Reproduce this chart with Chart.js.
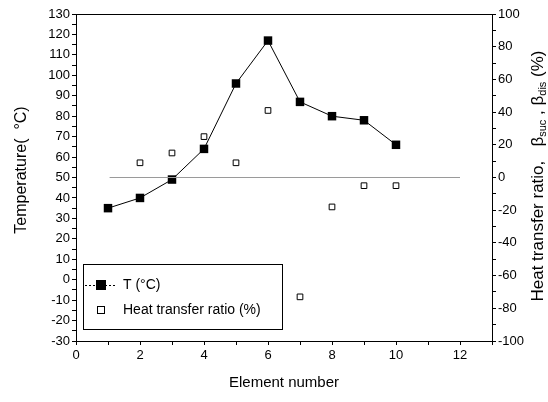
<!DOCTYPE html>
<html>
<head>
<meta charset="utf-8">
<script src="https://cdn.jsdelivr.net/npm/chart.js@4.4.1/dist/chart.umd.min.js"></script>
<style>
  html, body { margin: 0; padding: 0; background: #fff; }
  #wrap { width: 548px; height: 402px; }
</style>
</head>
<body>
<div id="wrap"><canvas id="c" width="548" height="402"></canvas></div>
<script>
// ---------- data ----------
var elements = [1, 2, 3, 4, 5, 6, 7, 8, 9, 10];
var tempC = [35, 40, 49, 64, 96, 117, 87, 80, 78, 66];
var ratioElements = [2, 3, 4, 5, 6, 7, 8, 9, 10];
var ratioPct = [9, 15, 25, 9, 41, -73, -18, -5, -5];
var zeroLineX = [1.05, 12];
var zeroLineY = [0, 0];

var tempLabel = 'T (\u00B0C)';
var ratioLabel = 'Heat transfer ratio (%)';

function pts(xs, ys) {
    return xs.map(function (x, i) { return { x: x, y: ys[i] }; });
}

var FONT = '"Liberation Sans", Arial, sans-serif';

// ---------- titles + legend drawn on canvas ----------
var extras = {
    id: 'extras',
    afterDraw: function (chart) {
        var ctx = chart.ctx;
        var a = chart.chartArea;
        ctx.save();
        ctx.fillStyle = '#000';
        ctx.strokeStyle = '#000';

        // x title
        ctx.font = '15px ' + FONT;
        ctx.textAlign = 'center';
        ctx.textBaseline = 'middle';
        ctx.fillText('Element number', (a.left + a.right) / 2, 383);

        // left title
        ctx.save();
        ctx.translate(22, 170);
        ctx.rotate(-Math.PI / 2);
        ctx.font = '16px ' + FONT;
        ctx.fillText('Temperature(  \u00B0C)', 0, 0);
        ctx.restore();

        // right title with subscripts
        ctx.save();
        ctx.translate(538, 176);
        ctx.rotate(-Math.PI / 2);
        var parts = [
            ['Heat transfer ratio,   \u03B2', false],
            ['suc', true],
            [' , \u03B2', false],
            ['dis', true],
            [' (%)', false]
        ];
        var big = '17px ' + FONT, small = '11px ' + FONT;
        var total = 0;
        parts.forEach(function (p) {
            ctx.font = p[1] ? small : big;
            total += ctx.measureText(p[0]).width;
        });
        var x = -total / 2;
        ctx.textAlign = 'left';
        parts.forEach(function (p) {
            ctx.font = p[1] ? small : big;
            ctx.fillText(p[0], x, p[1] ? 5 : 0);
            x += ctx.measureText(p[0]).width;
        });
        ctx.restore();

        // legend box
        var lx = a.left + 7, ly = 264, lw = 199, lh = 65;
        ctx.lineWidth = 1;
        ctx.strokeRect(lx + 0.5, ly + 0.5, lw, lh);

        var r1 = ly + 21, r2 = ly + 46, mx = lx + 18;
        ctx.setLineDash([2, 2]);
        ctx.beginPath();
        ctx.moveTo(lx + 2, r1 + 0.5);
        ctx.lineTo(lx + 32, r1 + 0.5);
        ctx.stroke();
        ctx.setLineDash([]);
        ctx.fillRect(mx - 5, r1 - 5, 10, 10);
        ctx.strokeRect(mx - 3.5, r2 - 3.5, 7, 7);

        ctx.font = '14px ' + FONT;
        ctx.textAlign = 'left';
        ctx.textBaseline = 'middle';
        ctx.fillText(tempLabel, lx + 40, r1);
        ctx.fillText(ratioLabel, lx + 40, r2);
        ctx.restore();
    }
};

var tickFont = { family: FONT, size: 13 };

new Chart(document.getElementById('c'), {
    type: 'scatter',
    data: {
        datasets: [
            {
                label: 'zero',
                data: pts(zeroLineX, zeroLineY),
                yAxisID: 'y2',
                showLine: true,
                borderColor: '#9a9a9a',
                borderWidth: 1,
                pointRadius: 0
            },
            {
                label: tempLabel,
                data: pts(elements, tempC),
                yAxisID: 'y',
                showLine: true,
                borderColor: '#000',
                borderWidth: 1,
                backgroundColor: '#000',
                pointStyle: 'rect',
                pointRadius: 6,
                pointBorderWidth: 0
            },
            {
                label: ratioLabel,
                data: pts(ratioElements, ratioPct),
                yAxisID: 'y2',
                showLine: false,
                borderColor: '#000',
                backgroundColor: '#fff',
                pointStyle: 'rect',
                pointRadius: 4,
                pointBorderWidth: 1
            }
        ]
    },
    options: {
        responsive: false,
        animation: false,
        layout: { padding: 0 },
        plugins: { legend: { display: false }, tooltip: { enabled: false } },
        scales: {
            x: {
                type: 'linear', position: 'bottom', min: 0, max: 13,
                afterFit: function (s) { s.height = 61; },
                ticks: {
                    stepSize: 1, color: '#000', font: tickFont, padding: 3,
                    maxRotation: 0, autoSkip: false,
                    callback: function (v) { return v % 2 === 0 ? v : ''; }
                },
                grid: { drawOnChartArea: false, color: '#000', tickLength: 4 },
                border: { color: '#000', width: 1 }
            },
            xTop: {
                type: 'linear', position: 'top', min: 0, max: 13,
                afterFit: function (s) { s.height = 14; },
                ticks: { stepSize: 1, display: false },
                grid: { drawOnChartArea: false, drawTicks: false },
                border: { color: '#000', width: 1 }
            },
            y: {
                type: 'linear', position: 'left', min: -30, max: 130,
                afterFit: function (s) { s.width = 76; },
                ticks: {
                    stepSize: 5, color: '#000', font: tickFont, padding: 2,
                    autoSkip: false,
                    callback: function (v) { return v % 10 === 0 ? v : ''; }
                },
                grid: { drawOnChartArea: false, color: '#000', tickLength: 4 },
                border: { color: '#000', width: 1 }
            },
            y2: {
                type: 'linear', position: 'right', min: -100, max: 100,
                afterFit: function (s) { s.width = 56; },
                ticks: {
                    stepSize: 10, color: '#000', font: tickFont, padding: 2,
                    autoSkip: false,
                    callback: function (v) { return v % 20 === 0 ? v : ''; }
                },
                grid: { drawOnChartArea: false, color: '#000', tickLength: 4 },
                border: { color: '#000', width: 1 }
            }
        }
    },
    plugins: [extras]
});
</script>
</body>
</html>
